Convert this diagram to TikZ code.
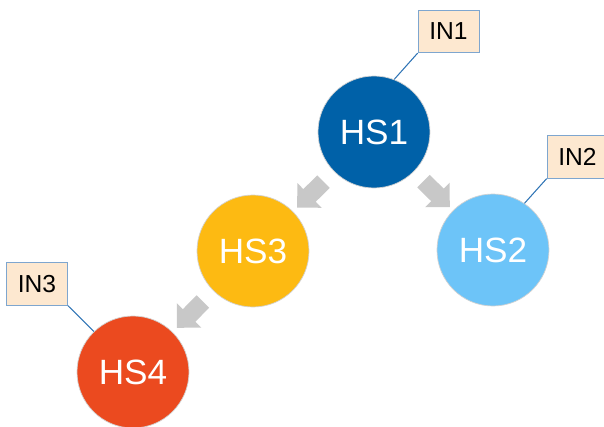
\documentclass[tikz,border=0pt]{standalone}
\usepackage{fontspec}
\setmainfont{Liberation Sans}
\usepackage{tikz}
\usetikzlibrary{shapes, arrows.meta, positioning, calc}

\definecolor{hsdark}{HTML}{0061A8}
\definecolor{hslight}{HTML}{6DC4F8}
\definecolor{hsamber}{HTML}{FDBA12}
\definecolor{hsred}{HTML}{EB4A1F}
\definecolor{inbox}{HTML}{FDE8D0}
\definecolor{inborder}{HTML}{7EA6CF}
\definecolor{inline}{HTML}{2F74B5}
\definecolor{flowgray}{HTML}{C8C8C8}

\begin{document}
\begin{tikzpicture}[
    hs/.style={circle, draw=gray!35, thin, minimum size=2.24cm, inner sep=0pt, text=white, font=\fontsize{20}{24}\selectfont},
    input/.style={rectangle, draw=inborder, fill=inbox, thin, minimum width=1.22cm, minimum height=0.85cm, inner sep=0pt, font=\fontsize{14}{16}\selectfont},
    link/.style={draw=inline, semithick},
    flow/.style={single arrow, fill=flowgray, draw=none, minimum height=0.74cm, inner sep=0.17cm, single arrow head extend=0.17cm, sloped, allow upside down}
]
\useasboundingbox (0,0) rectangle (12.08,-8.54);

% Hosts
\node[hs, fill=hsdark] (hs1) at (7.48,-2.64) {HS1};
\node[hs, fill=hslight] (hs2) at (9.86,-5.00) {HS2};
\node[hs, fill=hsamber] (hs3) at (5.06,-5.02) {HS3};
\node[hs, fill=hsred] (hs4) at (2.66,-7.44) {HS4};

% Inputs
\node[input] (in1) at (8.97,-0.63) {IN1};
\node[input] (in2) at (11.55,-3.14) {IN2};
\node[input] (in3) at (0.74,-5.68) {IN3};

% Flow arrows
\path (hs1) -- (hs3) node[flow, midway] (f13) {};
\path (hs1) -- (hs2) node[flow, midway] (f12) {};
\path (hs3) -- (hs4) node[flow, midway] (f34) {};

% Connections
\draw[link] (in1.south west) -- (hs1.69);
\draw[link] (in2.south west) -- (hs2.56);
\draw[link] (in3.south east) -- (hs4.134);

\end{tikzpicture}
\end{document}
